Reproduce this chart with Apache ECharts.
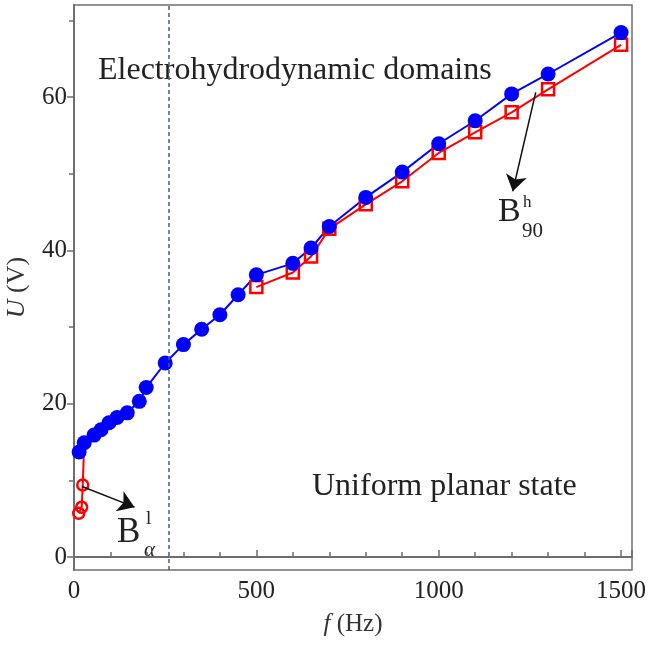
<!DOCTYPE html>
<html>
<head>
<meta charset="utf-8">
<script src="https://cdn.jsdelivr.net/npm/echarts@6/dist/echarts.min.js"></script>
<style>
  html, body { margin: 0; padding: 0; background: #fff; }
  #chart { width: 648px; height: 645px; }
</style>
</head>
<body>
<div id="chart"></div>
<script>
// blue filled circles (electrohydrodynamic threshold)
var freqBlue = [14, 28, 55, 74, 96, 118, 146, 179, 198, 250, 300, 350, 400, 450, 500, 600, 650, 700, 800, 900, 1000, 1100, 1200, 1300, 1500]
var voltBlue = [13.7, 14.9, 15.9, 16.6, 17.5, 18.2, 18.8, 20.3, 22.1, 25.3, 27.7, 29.7, 31.6, 34.2, 36.8, 38.3, 40.3, 43.1, 46.9, 50.2, 53.9, 56.9, 60.4, 63.0, 68.4]
// red open squares (B90 h)
var freqSquare = [500, 600, 650, 700, 800, 900, 1000, 1100, 1200, 1300, 1500]
var voltSquare = [35.2, 37.1, 39.2, 42.8, 46.0, 49.0, 52.7, 55.4, 58.0, 61.0, 66.8]
// red open circles (B alpha l)
var freqCircle = [13, 21, 24, 28]
var voltCircle = [5.7, 6.5, 9.4, 14.9]

var yTicks = [0, 20, 40, 60]
var yMinorTicks = [10, 30, 50, 70]
var boundaryFreq = 260

function pairs (xs, ys) {
  return xs.map(function (x, i) { return [x, ys[i]] })
}

var serif = 'Liberation Serif'
var axisColor = '#6e6e6e'
var chart = echarts.init(document.getElementById('chart'))
chart.setOption({
  animation: false,
  grid: {
    left: 74, right: 16, top: 5, bottom: 75,
    outerBoundsMode: 'none',
    containLabel: false,
    show: true, borderColor: axisColor, borderWidth: 1.5
  },
  xAxis: {
    type: 'value',
    min: 0, max: 1530, interval: 500,
    name: '{i|f} (Hz)',
    nameLocation: 'middle',
    nameGap: 42,
    nameTextStyle: {
      fontFamily: serif, fontSize: 25, color: '#333',
      rich: { i: { fontFamily: serif, fontSize: 25, fontStyle: 'italic', color: '#333' } }
    },
    axisLine: { lineStyle: { color: axisColor, width: 2 } },
    axisTick: { inside: true, length: 7, lineStyle: { color: axisColor, width: 1.5 } },
    minorTick: { show: true, splitNumber: 5, length: 5, lineStyle: { color: axisColor, width: 1.5 } },
    axisLabel: { fontFamily: serif, fontSize: 25, color: '#222', margin: 9, formatter: function (v) { return String(v) } },
    splitLine: { show: false }
  },
  yAxis: [{
    type: 'value',
    min: -1.7, max: 72,
    name: '{i|U} (V)',
    nameLocation: 'middle',
    nameGap: 44,
    nameRotate: 90,
    nameTextStyle: {
      fontFamily: serif, fontSize: 26, color: '#333',
      rich: { i: { fontFamily: serif, fontSize: 26, fontStyle: 'italic', color: '#333' } }
    },
    axisLine: { show: true, lineStyle: { color: axisColor, width: 2 } },
    axisTick: { show: true, length: 7, customValues: yTicks, lineStyle: { color: axisColor, width: 1.5 } },
    axisLabel: { fontFamily: serif, fontSize: 25, color: '#222', margin: 7, customValues: yTicks },
    splitLine: { show: false }
  }, {
    type: 'value',
    position: 'left',
    min: -1.7, max: 72,
    axisLine: { show: false },
    axisTick: { show: true, length: 5, customValues: yMinorTicks, lineStyle: { color: axisColor, width: 1.5 } },
    axisLabel: { show: false },
    splitLine: { show: false }
  }],
  series: [
    {
      name: 'B alpha',
      type: 'line',
      data: pairs(freqCircle, voltCircle),
      symbol: 'circle',
      symbolSize: 11,
      lineStyle: { color: '#ff0000', width: 2 },
      itemStyle: { color: 'rgba(0,0,0,0)', borderColor: '#ff0000', borderWidth: 2.5 },
      markLine: {
        silent: true,
        symbol: ['none', 'arrow'],
        symbolSize: 16,
        label: { show: false },
        lineStyle: { color: '#111', width: 1.5, type: 'solid' },
        data: [
          [{ coord: [22, 9.2] }, { coord: [166, 6.5] }],
          [{ coord: [1266, 60.6] }, { coord: [1203, 47.7] }]
        ]
      }
    },
    {
      name: 'B90',
      type: 'line',
      data: pairs(freqSquare, voltSquare),
      symbol: 'rect',
      symbolSize: 12,
      lineStyle: { color: '#ff0000', width: 2 },
      itemStyle: { color: 'rgba(0,0,0,0)', borderColor: '#ff0000', borderWidth: 2.5 }
    },
    {
      name: 'EHD',
      type: 'line',
      data: pairs(freqBlue, voltBlue),
      symbol: 'circle',
      symbolSize: 15,
      lineStyle: { color: '#0000ff', width: 2 },
      itemStyle: { color: '#0000ff' },
      z: 3,
      markLine: {
        silent: true,
        symbol: ['none', 'none'],
        label: { show: false },
        lineStyle: { color: '#3b5f8f', width: 1.5, type: [4, 3] },
        data: [{ xAxis: boundaryFreq }]
      }
    }
  ],
  graphic: [
    { type: 'text', left: 98, top: 55, style: { text: 'Electrohydrodynamic domains', font: '32px ' + serif, fill: '#222' } },
    { type: 'text', left: 312, top: 471, style: { text: 'Uniform planar state', font: '32px ' + serif, fill: '#222' } },
    { type: 'text', left: 117, top: 515, style: { text: 'B', font: '35px ' + serif, fill: '#222' } },
    { type: 'text', left: 146, top: 510, style: { text: 'l', font: '19px ' + serif, fill: '#222' } },
    { type: 'text', left: 144, top: 540, style: { text: 'α', font: 'italic 21px ' + serif, fill: '#222' } },
    { type: 'text', left: 498, top: 195, style: { text: 'B', font: '34px ' + serif, fill: '#222' } },
    { type: 'text', left: 523, top: 194, style: { text: 'h', font: '17px ' + serif, fill: '#222' } },
    { type: 'text', left: 522, top: 221, style: { text: '90', font: '21px ' + serif, fill: '#222' } }
  ]
})
</script>
</body>
</html>
